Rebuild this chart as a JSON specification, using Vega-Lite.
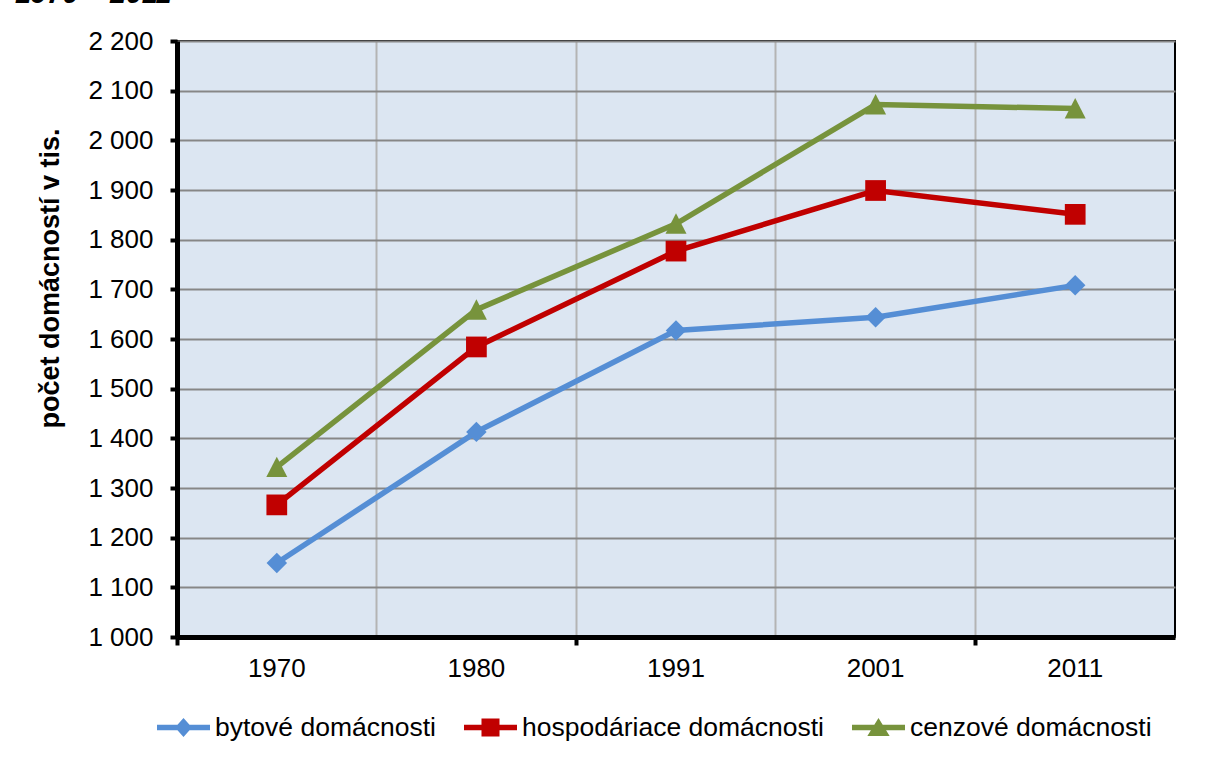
{
  "$schema": "https://vega.github.io/schema/vega-lite/v6.json",
  "width": 998,
  "height": 596,
  "autosize": {"type": "none"},
  "padding": {"left": 177, "top": 41, "right": 34, "bottom": 121},
  "background": "#ffffff",
  "title": {
    "text": "1970 – 2011",
    "anchor": "start",
    "frame": "group",
    "dx": -162,
    "offset": -3,
    "baseline": "alphabetic",
    "font": "Liberation Sans",
    "fontSize": 28.5,
    "fontStyle": "italic",
    "fontWeight": "bold",
    "color": "#000000"
  },
  "config": {
    "view": {"fill": "#DCE6F2", "stroke": "#000000", "strokeWidth": 2},
    "font": "Liberation Sans"
  },
  "data": {
    "values": [
      {"year": "1970", "series": "bytové domácnosti", "value": 1149},
      {"year": "1980", "series": "bytové domácnosti", "value": 1413},
      {"year": "1991", "series": "bytové domácnosti", "value": 1617},
      {"year": "2001", "series": "bytové domácnosti", "value": 1644},
      {"year": "2011", "series": "bytové domácnosti", "value": 1708},
      {"year": "1970", "series": "hospodáriace domácnosti", "value": 1266},
      {"year": "1980", "series": "hospodáriace domácnosti", "value": 1584},
      {"year": "1991", "series": "hospodáriace domácnosti", "value": 1777},
      {"year": "2001", "series": "hospodáriace domácnosti", "value": 1899},
      {"year": "2011", "series": "hospodáriace domácnosti", "value": 1851},
      {"year": "1970", "series": "cenzové domácnosti", "value": 1342},
      {"year": "1980", "series": "cenzové domácnosti", "value": 1659},
      {"year": "1991", "series": "cenzové domácnosti", "value": 1832},
      {"year": "2001", "series": "cenzové domácnosti", "value": 2072},
      {"year": "2011", "series": "cenzové domácnosti", "value": 2064}
    ]
  },
  "encoding": {
    "x": {
      "field": "year",
      "type": "ordinal",
      "scale": {"type": "band", "paddingInner": 0, "paddingOuter": 0},
      "axis": {
        "title": null,
        "bandPosition": 0,
        "labelAngle": 0,
        "labelFontSize": 26,
        "labelColor": "#000000",
        "labelPadding": 10,
        "grid": true,
        "gridColor": "#B4B4B4",
        "gridWidth": 2,
        "domainColor": "#000000",
        "domainWidth": 5,
        "tickColor": "#000000",
        "tickWidth": 4,
        "tickSize": 8,
        "tickOpacity": {"condition": {"test": "datum.value == '1980' || datum.value == '2001'", "value": 0}, "value": 1}
      }
    },
    "y": {
      "field": "value",
      "type": "quantitative",
      "scale": {"domain": [1000, 2200], "nice": false, "zero": false},
      "axis": {
        "title": "počet domácností v tis.",
        "titleFontSize": 27,
        "titleFontWeight": "bold",
        "titleColor": "#000000",
        "titleAngle": -90,
        "titleAlign": "center",
        "titleBaseline": "middle",
        "titleX": -127,
        "titleY": 237,
        "values": [1000, 1100, 1200, 1300, 1400, 1500, 1600, 1700, 1800, 1900, 2000, 2100, 2200],
        "labelExpr": "replace(format(datum.value, ','), ',', ' ')",
        "labelFontSize": 26,
        "labelColor": "#000000",
        "labelPadding": 17,
        "grid": true,
        "gridColor": "#878787",
        "gridWidth": 2,
        "domainColor": "#000000",
        "domainWidth": 5,
        "tickColor": "#000000",
        "tickWidth": 4,
        "tickSize": 7
      }
    }
  },
  "layer": [
    {
      "mark": {"type": "line", "strokeWidth": 5.5},
      "encoding": {
        "color": {
          "field": "series",
          "type": "nominal",
          "scale": {
            "domain": ["bytové domácnosti", "hospodáriace domácnosti", "cenzové domácnosti"],
            "range": ["#558ED5", "#C00000", "#77933C"]
          }
        }
      }
    },
    {
      "transform": [{"filter": "datum.series == 'bytové domácnosti'"}],
      "mark": {"type": "point", "filled": true, "opacity": 1, "size": 420, "strokeWidth": 0, "shape": "diamond", "color": "#558ED5"}
    },
    {
      "transform": [{"filter": "datum.series == 'hospodáriace domácnosti'"}],
      "mark": {"type": "point", "filled": true, "opacity": 1, "size": 430, "strokeWidth": 0, "shape": "square", "color": "#C00000"}
    },
    {
      "transform": [{"filter": "datum.series == 'cenzové domácnosti'"}],
      "mark": {"type": "point", "filled": true, "opacity": 1, "size": 441, "strokeWidth": 0, "shape": "M0,-1L1,0.95L-1,0.95Z", "color": "#77933C"}
    },
    {
      "transform": [{"filter": "datum.value < 0"}],
      "mark": {"type": "point", "filled": true, "opacity": 1, "strokeWidth": 0},
      "encoding": {
        "color": {
          "field": "series",
          "type": "nominal",
          "scale": {
            "domain": ["bytové domácnosti", "hospodáriace domácnosti", "cenzové domácnosti"],
            "range": ["#558ED5", "#C00000", "#77933C"]
          },
          "legend": {
            "title": null,
            "orient": "none",
            "direction": "horizontal",
            "legendX": -20,
            "legendY": 660,
            "padding": 0,
            "labelFontSize": 26.5,
            "labelColor": "#000000",
            "labelLimit": 0,
            "labelOffset": 5,
            "columnPadding": 28,
            "symbolSize": 2809,
            "symbolStrokeWidth": 0,
            "symbolOpacity": 1
          }
        },
        "shape": {
          "field": "series",
          "type": "nominal",
          "scale": {
            "domain": ["bytové domácnosti", "hospodáriace domácnosti", "cenzové domácnosti"],
            "range": [
              "M-1,-0.1L1,-0.1L1,0.1L-1,0.1Z M0,-0.36L0.32,0L0,0.36L-0.32,0Z",
              "M-1,-0.1L1,-0.1L1,0.1L-1,0.1Z M-0.34,-0.34L0.34,-0.34L0.34,0.34L-0.34,0.34Z",
              "M-1,-0.1L1,-0.1L1,0.1L-1,0.1Z M0,-0.36L0.42,0.32L-0.42,0.32Z"
            ]
          }
        }
      }
    }
  ]
}
